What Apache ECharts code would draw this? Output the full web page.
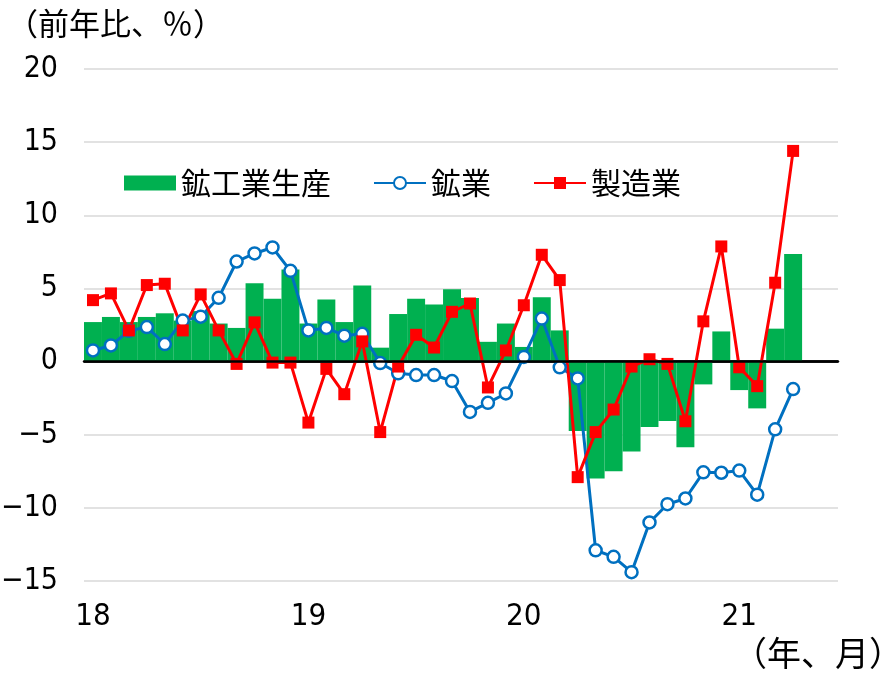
<!DOCTYPE html>
<html>
<head>
<meta charset="utf-8">
<script src="https://cdn.jsdelivr.net/npm/echarts@6/dist/echarts.min.js"></script>
<style>
  html, body { margin: 0; padding: 0; background: #fff; }
  #chart { width: 895px; height: 676px; }
</style>
</head>
<body>
<div id="chart"></div>
<script>
// months 2018-01 .. 2021-06 (last two are empty)
const years = ['18', '19', '20', '21'];
const months = [];
years.forEach(y => {
    for (let m = 1; m <= 12; m++) {
        if (y === '21' && m > 6) break;
        months.push(y + '/' + m);
    }
});

// 鉱工業生産
const industrial = [
    2.7, 3.05, 2.7, 3.05, 3.3, 2.8, 3.45, 2.6, 2.3, 5.35, 4.3, 6.3,
    2.6, 4.25, 2.7, 5.2, 0.95, 3.25, 4.3, 3.9, 4.95, 4.35, 1.35, 2.6,
    1.0, 4.4, 2.13, -4.75, -8.0, -7.5, -6.15, -4.47, -4.06, -5.85, -1.56, 2.06,
    -1.95, -3.2, 2.25, 7.35
];
// 鉱業
const mining = [
    0.76, 1.1, 2.1, 2.36, 1.2, 2.8, 3.07, 4.36, 6.84, 7.39, 7.8, 6.2,
    2.13, 2.3, 1.77, 1.9, -0.1, -0.8, -0.92, -0.92, -1.33, -3.44, -2.82, -2.18,
    0.32, 2.94, -0.39, -1.15, -12.9, -13.35, -14.4, -11.0, -9.75, -9.36, -7.57, -7.6,
    -7.45, -9.1, -4.63, -1.88
];
// 製造業
const manufacturing = [
    4.2, 4.66, 2.13, 5.23, 5.32, 2.13, 4.59, 2.13, -0.16, 2.68, -0.07, -0.07,
    -4.17, -0.5, -2.23, 1.38, -4.82, -0.34, 1.83, 0.96, 3.4, 3.97, -1.77, 0.76,
    3.85, 7.3, 5.57, -7.9, -4.82, -3.28, -0.34, 0.16, -0.16, -4.08, 2.75, 7.87,
    -0.39, -1.68, 5.39, 14.4
];

const yTicks = { min: -15, max: 20, step: 5 };

const numFont = '"Liberation Sans Narrow", "DejaVu Sans Condensed", sans-serif';
const jpFont = '"Noto Sans CJK JP", sans-serif';

const chart = echarts.init(document.getElementById('chart'));

const option = {
    animation: false,
    backgroundColor: '#fff',
    grid: { left: 84, right: 57, top: 69, bottom: 95, outerBoundsMode: 'none', containLabel: false },
    legend: {
        left: 119,
        top: 163,
        itemWidth: 52,
        itemHeight: 15,
        itemGap: 42,
        textStyle: { fontSize: 30, fontFamily: jpFont, color: '#000' },
        data: [
            { name: '鉱工業生産', icon: 'rect' },
            { name: '鉱業' },
            { name: '製造業' }
        ]
    },
    graphic: [
        {
            type: 'text', left: 7, top: 8,
            style: { text: '（前年比、％）', fontSize: 31, fontFamily: jpFont, fill: '#000' }
        },
        {
            type: 'text', left: 733, top: 636,
            style: { text: '（年、月）', fontSize: 34, fontFamily: jpFont, fill: '#000' }
        }
    ],
    xAxis: [
        {
            type: 'category',
            data: months,
            position: 'bottom',
            axisLine: { lineStyle: { color: '#000', width: 2.5 } },
            axisTick: { inside: true, interval: 0, length: 6, lineStyle: { color: '#000', width: 1.5 } },
            axisLabel: {
                interval: 11,
                margin: 20,
                fontSize: 31,
                fontFamily: numFont,
                color: '#000',
                formatter: v => v.split('/')[0]
            },
            splitLine: { show: false }
        },
        {
            type: 'category',
            data: months,
            position: 'bottom',
            axisLine: { show: false },
            axisTick: { inside: true, interval: 11, length: 10, lineStyle: { color: '#000', width: 1.5 } },
            axisLabel: { show: false },
            splitLine: { show: false }
        }
    ],
    yAxis: {
        type: 'value',
        min: yTicks.min,
        max: yTicks.max,
        interval: yTicks.step,
        axisLine: { show: false },
        axisTick: { show: false },
        axisLabel: {
            margin: 26,
            fontSize: 30,
            fontFamily: numFont,
            color: '#000',
            formatter: v => (v < 0 ? '\u2212' + Math.abs(v) : String(v))
        },
        splitLine: { lineStyle: { color: '#d9d9d9', width: 1.5 } }
    },
    series: [
        {
            name: '鉱工業生産',
            type: 'bar',
            data: industrial,
            barCategoryGap: '0%',
            itemStyle: { color: '#00B050' },
            markLine: {
                silent: true,
                symbol: 'none',
                label: { show: false },
                lineStyle: { color: '#000', width: 2.5, type: 'solid' },
                data: [{ yAxis: 0 }]
            }
        },
        {
            name: '鉱業',
            type: 'line',
            data: mining,
            showAllSymbol: true,
            symbol: 'circle',
            symbolSize: 12,
            lineStyle: { color: '#0070C0', width: 3 },
            itemStyle: { color: '#fff', borderColor: '#0070C0', borderWidth: 2.5 }
        },
        {
            name: '製造業',
            type: 'line',
            data: manufacturing,
            showAllSymbol: true,
            symbol: 'rect',
            symbolSize: 12,
            lineStyle: { color: '#FF0000', width: 3 },
            itemStyle: { color: '#FF0000' }
        }
    ]
};

chart.setOption(option);
</script>
</body>
</html>
